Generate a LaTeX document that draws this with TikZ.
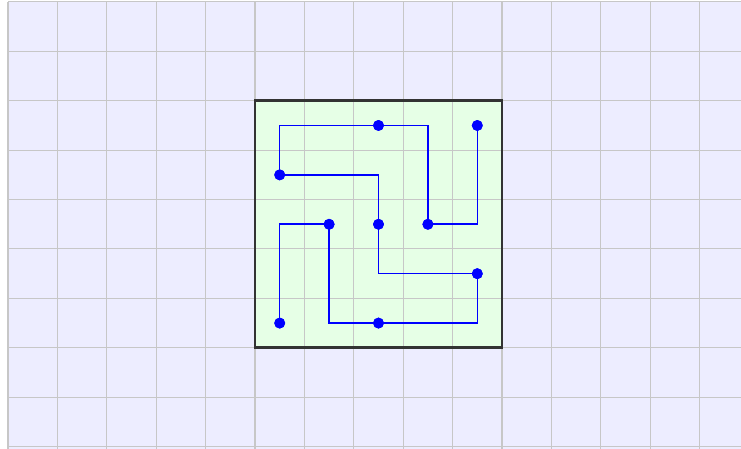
\documentclass[tikz,border=0pt]{standalone}
\begin{document}
\begin{tikzpicture}[x=1cm,y=-1cm,
  gridline/.style={draw=black!22,line width=0.6pt},
  frame/.style={draw=black!80,line width=1.6pt},
  curve/.style={draw=blue,line width=0.9pt},
  dot/.style={circle,fill=blue,inner sep=0pt,minimum size=0.22cm}]
\useasboundingbox (-0.162,-0.04) rectangle (14.838,9.03);
\clip (-0.162,-0.04) rectangle (14.838,9.03);
\fill[white] (-0.162,-0.04) rectangle (14.838,9.03);
\fill[fill={rgb,255:red,237;green,237;blue,255}] (0,0) rectangle (15,9.2);
\fill[fill={rgb,255:red,230;green,255;blue,230}] (5,2) rectangle (10,7);
\foreach \i in {0,...,14} \draw[gridline] (\i,0) -- (\i,9.2);
\foreach \j in {0,...,9} \draw[gridline] (0,\j) -- (15,\j);
\draw[frame] (5,2) rectangle (10,7);
\node[dot] (d1) at (5.5,6.5) {};
\node[dot] (d2) at (6.5,4.5) {};
\node[dot] (d3) at (7.5,6.5) {};
\node[dot] (d4) at (9.5,5.5) {};
\node[dot] (d5) at (7.5,4.5) {};
\node[dot] (d6) at (5.5,3.5) {};
\node[dot] (d7) at (7.5,2.5) {};
\node[dot] (d8) at (8.5,4.5) {};
\node[dot] (d9) at (9.5,2.5) {};
\coordinate (c1) at (5.5,4.5);
\coordinate (c2) at (6.5,6.5);
\coordinate (c3) at (9.5,6.5);
\coordinate (c4) at (7.5,5.5);
\coordinate (c5) at (7.5,3.5);
\coordinate (c6) at (5.5,2.5);
\coordinate (c7) at (8.5,2.5);
\coordinate (c8) at (9.5,4.5);
\begin{pgfonlayer}{main}\end{pgfonlayer}
\draw[curve] (d1.center) -- (c1) -- (d2.center) -- (c2) -- (d3.center) -- (c3) -- (d4.center) -- (c4) -- (d5.center) -- (c5) -- (d6.center) -- (c6) -- (d7.center) -- (c7) -- (d8.center) -- (c8) -- (d9.center);
\foreach \n in {d1,d2,d3,d4,d5,d6,d7,d8,d9} \fill[blue] (\n.center) circle (0.11cm);
\end{tikzpicture}
\end{document}
